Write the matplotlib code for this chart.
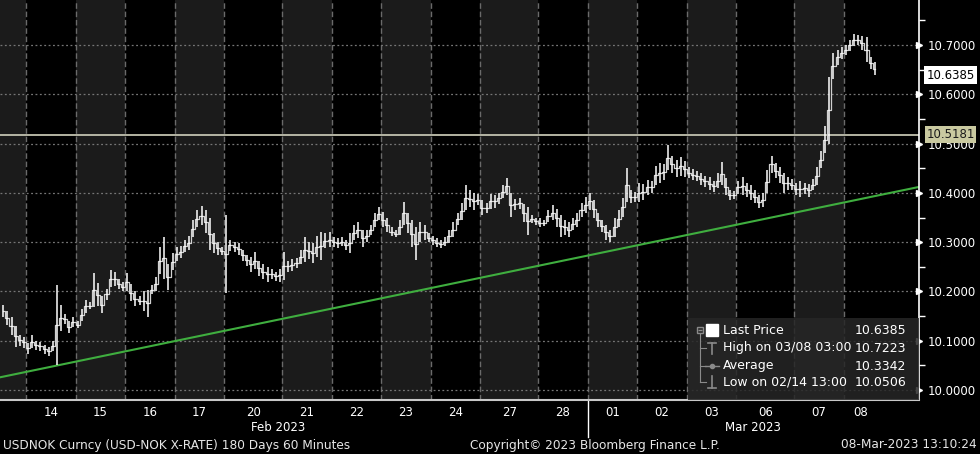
import numpy as np
import matplotlib
matplotlib.use('Agg')
import matplotlib.pyplot as plt
import matplotlib.transforms as mtransforms
from matplotlib.patches import Rectangle

# trading days on the chart and number of 2-hour bars in each
days = ['13', '14', '15', '16', '17', '20', '21', '22', '23', '24', '27', '28',
        '01', '02', '03', '06', '07', '08']
bars_per_day = [6, 12, 12, 12, 12, 14, 12, 12, 12, 12, 14, 12, 12, 12, 12, 14, 12, 8]

# USDNOK bar lows / highs, one line per day
bar_low = [
    10.148, 10.132, 10.112, 10.088, 10.090, 10.086,
    10.074, 10.085, 10.082, 10.080, 10.074, 10.070, 10.080, 10.0506, 10.120, 10.135, 10.115, 10.128,
    10.126, 10.140, 10.157, 10.165, 10.168, 10.170, 10.157, 10.183, 10.209, 10.212, 10.205, 10.200,
    10.200, 10.180, 10.170, 10.172, 10.160, 10.149, 10.195, 10.200, 10.235, 10.225, 10.203, 10.243,
    10.262, 10.268, 10.280, 10.285, 10.310, 10.330, 10.335, 10.318, 10.285, 10.278, 10.275, 10.274,
    10.197, 10.282, 10.280, 10.275, 10.262, 10.252, 10.240, 10.245, 10.232, 10.225, 10.220, 10.225, 10.222, 10.220,
    10.223, 10.240, 10.242, 10.248, 10.255, 10.260, 10.265, 10.258, 10.270, 10.264, 10.288, 10.290,
    10.290, 10.288, 10.292, 10.285, 10.278, 10.304, 10.308, 10.290, 10.300, 10.314, 10.330, 10.345,
    10.330, 10.320, 10.312, 10.310, 10.315, 10.335, 10.318, 10.290, 10.264, 10.300, 10.305, 10.300,
    10.295, 10.290, 10.288, 10.292, 10.298, 10.310, 10.335, 10.345, 10.365, 10.372, 10.365, 10.375,
    10.355, 10.360, 10.368, 10.370, 10.378, 10.390, 10.395, 10.351, 10.365, 10.368, 10.340, 10.314, 10.338, 10.335,
    10.330, 10.332, 10.340, 10.345, 10.330, 10.311, 10.315, 10.311, 10.325, 10.330, 10.352, 10.360,
    10.365, 10.350, 10.331, 10.320, 10.305, 10.301, 10.310, 10.330, 10.351, 10.381, 10.380, 10.382,
    10.381, 10.385, 10.396, 10.400, 10.416, 10.420, 10.426, 10.446, 10.440, 10.432, 10.435, 10.432,
    10.430, 10.426, 10.425, 10.415, 10.412, 10.405, 10.402, 10.410, 10.415, 10.395, 10.385, 10.388,
    10.398, 10.396, 10.392, 10.385, 10.380, 10.369, 10.372, 10.400, 10.440, 10.430, 10.420, 10.400, 10.406, 10.405,
    10.395, 10.392, 10.398, 10.392, 10.405, 10.415, 10.450, 10.480, 10.500, 10.630, 10.660, 10.672,
    10.680, 10.688, 10.698, 10.700, 10.690, 10.665, 10.652, 10.6385,
]
bar_high = [
    10.172, 10.160, 10.148, 10.130, 10.112, 10.108,
    10.095, 10.112, 10.100, 10.097, 10.092, 10.088, 10.100, 10.213, 10.172, 10.155, 10.140, 10.148,
    10.140, 10.165, 10.183, 10.178, 10.237, 10.217, 10.190, 10.205, 10.243, 10.240, 10.225, 10.220,
    10.237, 10.215, 10.200, 10.190, 10.200, 10.203, 10.213, 10.230, 10.290, 10.311, 10.255, 10.278,
    10.290, 10.292, 10.305, 10.312, 10.345, 10.365, 10.373, 10.365, 10.350, 10.318, 10.300, 10.290,
    10.355, 10.305, 10.300, 10.298, 10.284, 10.275, 10.270, 10.280, 10.262, 10.255, 10.250, 10.245, 10.240, 10.245,
    10.280, 10.262, 10.265, 10.268, 10.285, 10.310, 10.300, 10.298, 10.312, 10.320, 10.318, 10.320,
    10.310, 10.308, 10.310, 10.305, 10.318, 10.335, 10.340, 10.325, 10.325, 10.335, 10.360, 10.371,
    10.361, 10.350, 10.330, 10.325, 10.345, 10.382, 10.360, 10.345, 10.330, 10.341, 10.335, 10.318,
    10.312, 10.308, 10.305, 10.310, 10.325, 10.341, 10.360, 10.380, 10.416, 10.405, 10.400, 10.398,
    10.385, 10.380, 10.398, 10.395, 10.400, 10.415, 10.431, 10.400, 10.388, 10.390, 10.378, 10.372, 10.355, 10.350,
    10.348, 10.345, 10.365, 10.375, 10.368, 10.355, 10.345, 10.340, 10.350, 10.359, 10.380, 10.392,
    10.400, 10.385, 10.360, 10.345, 10.335, 10.325, 10.350, 10.365, 10.390, 10.450, 10.405, 10.402,
    10.420, 10.418, 10.426, 10.425, 10.455, 10.460, 10.458, 10.497, 10.475, 10.467, 10.473, 10.465,
    10.452, 10.448, 10.445, 10.440, 10.435, 10.432, 10.425, 10.440, 10.463, 10.430, 10.406, 10.404,
    10.425, 10.432, 10.420, 10.415, 10.405, 10.395, 10.400, 10.446, 10.475, 10.460, 10.452, 10.440, 10.432, 10.428,
    10.420, 10.425, 10.420, 10.418, 10.428, 10.452, 10.485, 10.535, 10.635, 10.684, 10.690, 10.696,
    10.700, 10.710, 10.7223, 10.720, 10.718, 10.715, 10.675, 10.665,
]

trend_start, trend_end = 10.026, 10.412
ref_level = 10.5181
last_price = 10.6385
y_levels = [10.0, 10.1, 10.2, 10.3, 10.4, 10.5, 10.6, 10.7]
legend_rows = [('Last Price', '10.6385'), ('High on 03/08 03:00', '10.7223'),
               ('Average', '10.3342'), ('Low on 02/14 13:00', '10.0506')]

plt.rcParams['font.family'] = ['DejaVu Sans']

fig = plt.figure(figsize=(9.8, 4.54), dpi=100, facecolor='black')
ax = fig.add_axes([0, 1 - 400 / 454, 919 / 980, 400 / 454], facecolor='black')

x_left, x_right = -0.29, 222.2
ax.set_xlim(x_left, x_right)
ax.set_ylim(9.98, 10.791)

# day bands
starts = np.concatenate([[0], np.cumsum(bars_per_day)[:-1]])
ends = np.cumsum(bars_per_day)
for i, (s, e) in enumerate(zip(starts, ends)):
    left = x_left if i == 0 else s
    right = x_right if i == len(days) - 1 else e
    ax.axvspan(left, right, color='#1b1b1b' if i % 2 == 0 else 'black', lw=0, zorder=0)
    if i > 0:
        ax.axvline(s, color='#6a6a6a', lw=1, ls=(0, (4, 2)), zorder=1)

for lv in y_levels:
    ax.axhline(lv, color='#767676', lw=0.9, ls=(0, (1.5, 2)), zorder=1)

# trend line and reference level
ax.plot([x_left, x_right], [trend_start, trend_end], color='#3fae3f', lw=1.5, zorder=2)
ax.axhline(ref_level, color='#c2c2b0', lw=1.3, zorder=2)

# price bars
lo = np.array(bar_low)
hi = np.array(bar_high)
x = np.arange(len(lo)) + 0.5
ax.step(x, (lo + hi) / 2, where='mid', color='#d0d0d0', lw=0.9, zorder=3)
ax.vlines(x, lo, hi, color='white', lw=1.1, zorder=4)

# axes styling
for side in ['left', 'top']:
    ax.spines[side].set_visible(False)
ax.spines['right'].set_color('white')
ax.spines['right'].set_linewidth(1.2)
ax.spines['bottom'].set_color('#c8c8c8')
ax.spines['bottom'].set_linewidth(1.5)

ax.yaxis.tick_right()
ax.set_yticks(y_levels)
ax.set_yticklabels(['%.4f' % v for v in y_levels])
ax.set_yticks(np.arange(10.05, 10.8, 0.1), minor=True)
ax.tick_params(axis='y', which='major', length=0, pad=6, labelsize=8.5, labelcolor='white')
ax.tick_params(axis='y', which='minor', length=4, width=1, color='white', direction='out')
ax.plot([x_right] * len(y_levels), y_levels, marker='>', ms=5, color='white', ls='none',
        clip_on=False, zorder=6)

centers = (starts + ends) / 2
ax.set_xticks(centers[1:])
ax.set_xticklabels(days[1:])
ax.tick_params(axis='x', length=0, pad=4, labelsize=8.5, labelcolor='white')

trans = mtransforms.blended_transform_factory(ax.transData, ax.transAxes)
ax.text(67, -0.068, 'Feb 2023', transform=trans, ha='center', va='center', color='white', fontsize=8.5)
ax.text((starts[12] + x_right) / 2, -0.068, 'Mar 2023', transform=trans, ha='center', va='center',
        color='white', fontsize=8.5)
ax.plot([starts[12], starts[12]], [0, -0.0925], transform=trans, color='white', lw=1, clip_on=False)

# right side value flags
ytrans = mtransforms.blended_transform_factory(ax.transAxes, ax.transData)
ax.text(1.008, last_price, '%.4f' % last_price, transform=ytrans, ha='left', va='center', fontsize=8.5,
        color='black', bbox=dict(boxstyle='square,pad=0.2', fc='white', ec='none'), zorder=7)
ax.text(1.008, ref_level, '%.4f' % ref_level, transform=ytrans, ha='left', va='center', fontsize=8.5,
        color='#1a1a1a', bbox=dict(boxstyle='square,pad=0.15', fc='#c9c9a0', ec='none'), zorder=7)

# legend panel
def px(xp, yp):
    return xp / 919, (400 - yp) / 400

ax.add_patch(Rectangle(px(688, 400), 231 / 919, 82 / 400, transform=ax.transAxes,
                       fc='#262626', alpha=0.85, ec='none', zorder=8))
row_y = [331, 348, 366, 382]
for (label, val), ry in zip(legend_rows, row_y):
    ax.text(*px(723, ry), label, transform=ax.transAxes, ha='left', va='center', color='white',
            fontsize=9, zorder=9)
    ax.text(*px(906, ry), val, transform=ax.transAxes, ha='right', va='center', color='white',
            fontsize=9, zorder=9)

tree = '#8a8a8a'
ax.plot(*zip(px(700, 334), px(700, 382)), transform=ax.transAxes, color=tree, lw=0.8, zorder=9)
for ry in row_y[1:]:
    ax.plot(*zip(px(700, ry), px(706, ry)), transform=ax.transAxes, color=tree, lw=0.8, zorder=9)
ax.plot(*px(700, 330), marker='s', ms=5, mfc='#262626', mec=tree, transform=ax.transAxes, zorder=9)
ax.plot(*px(700, 330), marker='_', ms=3, mec=tree, transform=ax.transAxes, zorder=10)
ax.plot(*px(712, 330), marker='s', ms=9, color='white', transform=ax.transAxes, zorder=9)
ax.plot(*zip(px(712, 343), px(712, 354)), transform=ax.transAxes, color=tree, lw=1.2, zorder=9)
ax.plot(*zip(px(708, 343), px(716, 343)), transform=ax.transAxes, color=tree, lw=1.2, zorder=9)
ax.plot(*zip(px(705, 366), px(719, 366)), transform=ax.transAxes, color=tree, lw=1, zorder=9)
ax.plot(*px(712, 366), marker='o', ms=3, color=tree, transform=ax.transAxes, zorder=9)
ax.plot(*zip(px(712, 376), px(712, 388)), transform=ax.transAxes, color=tree, lw=1.2, zorder=9)
ax.plot(*zip(px(708, 388), px(716, 388)), transform=ax.transAxes, color=tree, lw=1.2, zorder=9)

# footer
foot_y = 1 - 445 / 454
fig.text(3 / 980, foot_y, 'USDNOK Curncy (USD-NOK X-RATE) 180 Days 60 Minutes', color='#e6e6e6',
         fontsize=8.7, va='center', ha='left')
fig.text(470 / 980, foot_y, 'Copyright\u00a9 2023 Bloomberg Finance L.P.', color='#e6e6e6',
         fontsize=8.7, va='center', ha='left')
fig.text(977 / 980, foot_y, '08-Mar-2023 13:10:24', color='#e6e6e6', fontsize=8.7, va='center', ha='right')

fig.savefig('out.png', dpi=100, facecolor='black')
